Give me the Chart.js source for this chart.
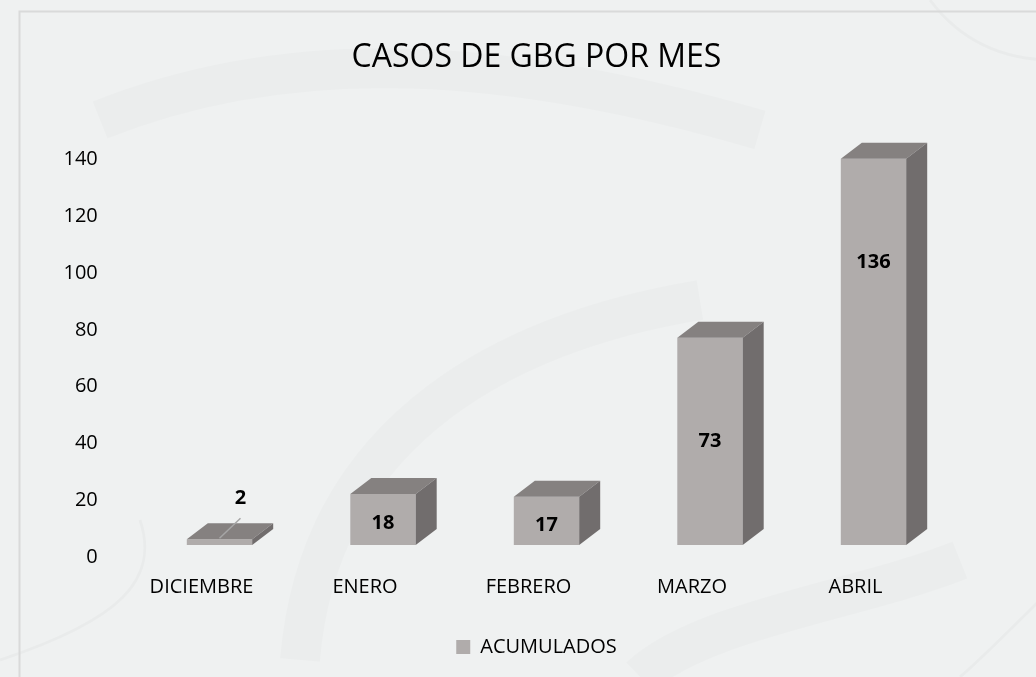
<!DOCTYPE html>
<html lang="es">
<head>
  <meta charset="UTF-8" />
  <title>CASOS DE GBG POR MES</title>
  <script src="https://cdn.jsdelivr.net/npm/chart.js"></script>
  <style>
    html, body { margin:0; padding:0; overflow:hidden; background:#eff1f1; }
    canvas { display:block; }
  </style>
</head>
<body>
  <canvas id="chart" width="1054" height="677" style="width:1054px;height:677px"></canvas>

<script>
/* ====== datos ====== */
const meses      = ['DICIEMBRE', 'ENERO', 'FEBRERO', 'MARZO', 'ABRIL'];
const acumulados = [2, 18, 17, 73, 136];
const serieNombre = 'ACUMULADOS';
const yTicks     = [0, 20, 40, 60, 80, 100, 120, 140];

/* ====== colores ====== */
const frente = '#b0acab', tapa = '#858180', lado = '#716d6d';
const fuente = '"Open Sans", "Noto Sans", sans-serif';
const DX = 21, DY = -16;   // profundidad del efecto 3D

/* fondo con borde y algunas curvas tenues */
const fondo = {
  id:'fondo',
  beforeDraw(chart){
    const c = chart.ctx, w = chart.width, h = chart.height;
    c.save();
    c.fillStyle = '#eff1f1';
    c.fillRect(0,0,w,h);
    c.strokeStyle = 'rgba(0,0,0,0.016)';
    c.lineWidth = 40;
    c.beginPath(); c.moveTo(100,120); c.bezierCurveTo(300,40,520,60,760,130); c.stroke();
    c.beginPath(); c.moveTo(300,660); c.bezierCurveTo(320,420,520,330,700,300); c.stroke();
    c.beginPath(); c.moveTo(960,560); c.bezierCurveTo(860,600,700,620,640,677); c.stroke();
    c.strokeStyle = 'rgba(0,0,0,0.025)';
    c.lineWidth = 3;
    c.beginPath(); c.moveTo(0,660); c.bezierCurveTo(120,620,160,580,140,520); c.stroke();
    c.beginPath(); c.moveTo(1040,600); c.bezierCurveTo(1000,640,980,660,960,677); c.stroke();
    c.beginPath(); c.moveTo(930,0); c.bezierCurveTo(960,40,1000,60,1054,60); c.stroke();
    c.strokeStyle = '#d9dada';
    c.lineWidth = 2;
    c.strokeRect(19.5, 11.5, w, h);
    c.restore();
  }
};

/* caras superior y lateral + etiquetas de valor */
const barras3d = {
  id:'barras3d',
  afterDatasetsDraw(chart){
    const c = chart.ctx;
    const meta = chart.getDatasetMeta(0);
    c.save();
    meta.data.forEach((bar, i) => {
      const l = bar.x - bar.width/2, r = bar.x + bar.width/2;
      const t = bar.y, b = bar.base;
      c.fillStyle = tapa;
      c.beginPath();
      c.moveTo(l,t); c.lineTo(r,t); c.lineTo(r+DX,t+DY); c.lineTo(l+DX,t+DY);
      c.closePath(); c.fill();
      c.fillStyle = lado;
      c.beginPath();
      c.moveTo(r,t); c.lineTo(r+DX,t+DY); c.lineTo(r+DX,b+DY); c.lineTo(r,b);
      c.closePath(); c.fill();

      c.fillStyle = '#000';
      c.font = 'bold 20px ' + fuente;
      c.textAlign = 'center';
      c.textBaseline = 'middle';
      const alto = b - t;
      if (alto < 30) {
        c.strokeStyle = '#a6a6a6';
        c.lineWidth = 1.5;
        c.beginPath(); c.moveTo(bar.x+DX, t-21); c.lineTo(bar.x, t-1); c.stroke();
        c.fillText(acumulados[i], bar.x+DX, t-41);
      } else {
        c.fillText(acumulados[i], bar.x, t + Math.min(alto/2, 100) + 4);
      }
    });
    c.restore();
  }
};

new Chart(document.getElementById('chart'), {
  type:'bar',
  data:{
    labels: meses,
    datasets:[{
      label: serieNombre,
      data: acumulados,
      backgroundColor: frente,
      borderWidth: 0,
      categoryPercentage: 1,
      barPercentage: 0.4
    }]
  },
  options:{
    responsive:false,
    animation:false,
    layout:{ padding:{ left:19, right:0, top:0, bottom:10 } },
    scales:{
      x:{
        grid:{ display:false, drawTicks:false },
        border:{ display:false },
        ticks:{ color:'#000', font:{ family:fuente, size:20 }, padding:30, labelOffset:-18, maxRotation:0 },
        afterFit: s => { s.height = 82; }
      },
      y:{
        min:0, max:140,
        afterBuildTicks: s => { s.ticks = yTicks.map(v => ({ value:v })); },
        grid:{ display:false, drawTicks:false },
        border:{ display:false },
        ticks:{ color:'#000', font:{ family:fuente, size:20 }, padding:40, labelOffset:12 },
        afterFit: s => { s.width = 118.75; }
      },
      derecha:{
        position:'right',
        grid:{ display:false, drawTicks:false },
        border:{ display:false },
        ticks:{ display:false },
        afterFit: s => { s.width = 98.75; }
      }
    },
    plugins:{
      title:{
        display:true,
        text:'CASOS DE GBG POR MES',
        color:'#000',
        font:{ family:fuente, size:32, weight:'normal' },
        padding:{ top:39, bottom:70 }
      },
      legend:{
        position:'bottom',
        labels:{ color:'#000', font:{ family:fuente, size:20 }, boxWidth:14, boxHeight:14, padding:10 }
      },
      tooltip:{ enabled:false }
    }
  },
  plugins:[fondo, barras3d]
});
</script>
</body>
</html>
